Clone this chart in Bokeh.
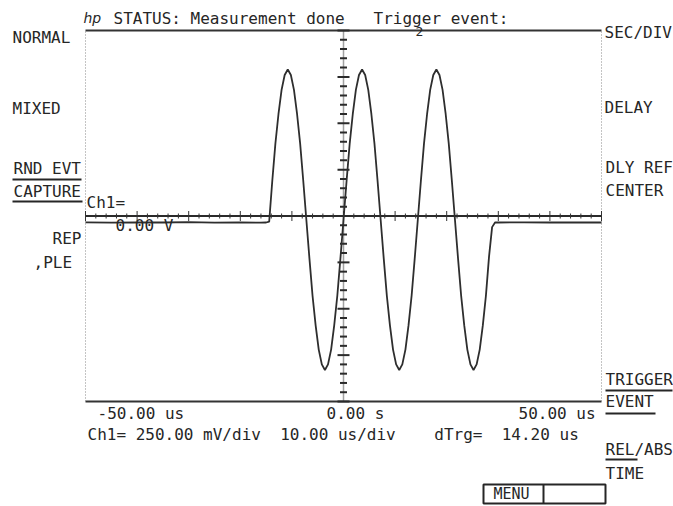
from bokeh.plotting import figure
from bokeh.models import Range1d
from bokeh.core.properties import value
from bokeh.embed import file_html
from bokeh.resources import INLINE

# ---------------- data ----------------
# Ch1 trace: time in microseconds, voltage in volts
base_left_t = [-50.0, -45.0, -40.0, -35.0, -30.0, -25.0, -20.0, -16.0, -15.0]
base_left_v = [-0.034, -0.036, -0.034, -0.035, -0.033, -0.036, -0.035, -0.036, -0.035]

burst_t = [-14.4, -13.8, -13.2, -12.6, -12.0, -11.4, -10.8, -10.2, -9.6, -9.0, -8.4, -7.8,
           -7.2, -6.6, -6.0, -5.4, -4.8, -4.2, -3.6, -3.0, -2.4, -1.8, -1.2, -0.6,
           0.0, 0.6, 1.2, 1.8, 2.4, 3.0, 3.6, 4.2, 4.8, 5.4, 6.0, 6.6,
           7.2, 7.8, 8.4, 9.0, 9.6, 10.2, 10.8, 11.4, 12.0, 12.6, 13.2, 13.8,
           14.4, 15.0, 15.6, 16.2, 16.8, 17.4, 18.0, 18.6, 19.2, 19.8, 20.4, 21.0,
           21.6, 22.2, 22.8, 23.4, 24.0, 24.6, 25.2, 25.8, 26.4, 27.0, 27.6, 28.2,
           28.8]
burst_v = [-0.03, 0.19, 0.39, 0.55, 0.68, 0.76, 0.79, 0.76, 0.68, 0.55, 0.39, 0.19,
           -0.02, -0.23, -0.43, -0.59, -0.72, -0.80, -0.83, -0.80, -0.72, -0.59, -0.43, -0.23,
           -0.02, 0.19, 0.39, 0.55, 0.68, 0.76, 0.79, 0.76, 0.68, 0.55, 0.39, 0.19,
           -0.02, -0.23, -0.43, -0.59, -0.72, -0.80, -0.83, -0.80, -0.72, -0.59, -0.43, -0.23,
           -0.02, 0.19, 0.39, 0.55, 0.68, 0.76, 0.79, 0.76, 0.68, 0.55, 0.39, 0.19,
           -0.02, -0.23, -0.43, -0.59, -0.72, -0.80, -0.83, -0.80, -0.72, -0.59, -0.43, -0.22,
           -0.06]
base_right_t = [29.4, 30.0, 35.0, 40.0, 45.0, 50.0]
base_right_v = [-0.034, -0.035, -0.034, -0.035, -0.035, -0.035]

time_labels = ["-50.00 us", "0.00 s", "50.00 us"]
status_text = "STATUS: Measurement done   Trigger event:"
scale_text = "Ch1= 250.00 mV/div  10.00 us/div    dTrg=  14.20 us"
left_menu = ["NORMAL", "MIXED", "RND EVT", "CAPTURE", "REP", ",PLE"]
right_menu = ["SEC/DIV", "DELAY", "DLY REF", "CENTER", "TRIGGER", "EVENT", "REL/ABS", "TIME"]

# ---------------- layout helpers ----------------
W, H = 673, 506
OFF = 0           # canvas origin on the page
PX_US = 5.16      # pixels per microsecond
PX_V = 185.5      # pixels per volt
X0 = -50 - 85 / PX_US
Y1 = 1 + 30 / PX_V
TEXT_DY = -6      # baseline correction for svg text


def dx(px):  # picture pixel -> data x
    return X0 + (px - OFF) / PX_US


def dy(py):  # picture pixel -> data y
    return Y1 - (py - OFF) / PX_V


FONT = value("DejaVu Sans Mono")
INK = "#262626"
NB = "\u00a0"

p = figure(width=W, height=H, output_backend="svg", toolbar_location=None,
           x_axis_type=None, y_axis_type=None, min_border=0,
           x_range=Range1d(dx(OFF), dx(OFF + W)), y_range=Range1d(dy(OFF + H), dy(OFF)))
p.outline_line_color = None
p.background_fill_color = "white"
p.border_fill_color = "white"

# frame: solid top/bottom, dotted left/right
p.segment(x0=[-50, -50], y0=[1, -1], x1=[50, 50], y1=[1, -1], line_color="#333333", line_width=2)
p.segment(x0=[-50, 50], y0=[-1, -1], x1=[-50, 50], y1=[1, 1], line_color="#888888",
          line_width=1, line_dash="1 2")

# centre horizontal axis with ticks
p.segment(x0=[-50], y0=[0], x1=[50], y1=[0], line_color="#2a2a2a", line_width=2)
hx = [-50 + 2 * i for i in range(51)]
hl = [5 / PX_V if (t % 10 == 0) else 2.5 / PX_V for t in hx]
p.segment(x0=hx, y0=[-h for h in hl], x1=hx, y1=hl, line_color="#333333", line_width=1)

# centre vertical axis (dotted) with ticks
p.segment(x0=[0], y0=[-1], x1=[0], y1=[1], line_color="#444444", line_width=1.5, line_dash="1 1")
vy = [round(-1 + 0.05 * i, 2) for i in range(41)]
vl = [6 / PX_US if (abs(v * 4 - round(v * 4)) < 1e-6) else 3.5 / PX_US for v in vy]
p.segment(x0=[-w for w in vl], y0=vy, x1=vl, y1=vy, line_color="#2a2a2a", line_width=2)

# trace
trace_t = base_left_t + burst_t + base_right_t
trace_v = base_left_v + burst_v + base_right_v
p.line(trace_t, trace_v, line_color="#2e2e2e", line_width=1.8)


# ---------------- texts ----------------
def txt(px, py, s, size="16px", align="left", style="normal"):
    p.text(x=[dx(px)], y=[dy(py + TEXT_DY)], text=[s.replace(" ", NB)], text_font=FONT,
           text_font_size=size, text_color=INK, text_align=align,
           text_baseline="alphabetic", text_font_style=style)


p.text(x=[dx(83)], y=[dy(23 + TEXT_DY)], text=["hp"], text_font=value("DejaVu Sans"),
       text_font_size="14px", text_color=INK, text_font_style="italic",
       text_baseline="alphabetic")
txt(113, 24, status_text)
txt(415, 37, "2", size="13px")

# left soft keys
txt(12, 43, left_menu[0])
txt(12, 114, left_menu[1])
txt(13, 174, left_menu[2])
txt(13, 197, left_menu[3])
txt(81, 244, left_menu[4], align="right")
txt(33, 268, left_menu[5])
p.segment(x0=[dx(12), dx(12)], y0=[dy(179), dy(201)], x1=[dx(81), dx(82)], y1=[dy(179), dy(201)],
          line_color=INK, line_width=2)

# channel marker
txt(86, 208, "Ch1=")
txt(115, 231, "0.00 V")

# right soft keys
txt(604, 38, right_menu[0])
txt(604, 113, right_menu[1])
txt(605, 173, right_menu[2])
txt(605, 196, right_menu[3])
txt(605, 385, right_menu[4])
txt(605, 407, right_menu[5])
txt(605, 455, right_menu[6])
txt(605, 479, right_menu[7])
p.segment(x0=[dx(605), dx(605), dx(605)], y0=[dy(390), dy(413), dy(459)],
          x1=[dx(672), dx(655), dx(637)], y1=[dy(390), dy(413), dy(459)],
          line_color=INK, line_width=2)

# bottom labels
txt(97, 419, time_labels[0])
txt(326, 419, time_labels[1])
txt(518, 419, time_labels[2])
txt(87, 440, scale_text)

# menu box
p.quad(left=[dx(483)], right=[dx(605)], top=[dy(484)], bottom=[dy(503)],
       fill_color=None, line_color=INK, line_width=2)
p.segment(x0=[dx(543)], y0=[dy(484)], x1=[dx(543)], y1=[dy(503)], line_color=INK, line_width=2)
txt(493, 499, "MENU", size="15px")

open("out.html", "w").write(file_html(p, INLINE))
